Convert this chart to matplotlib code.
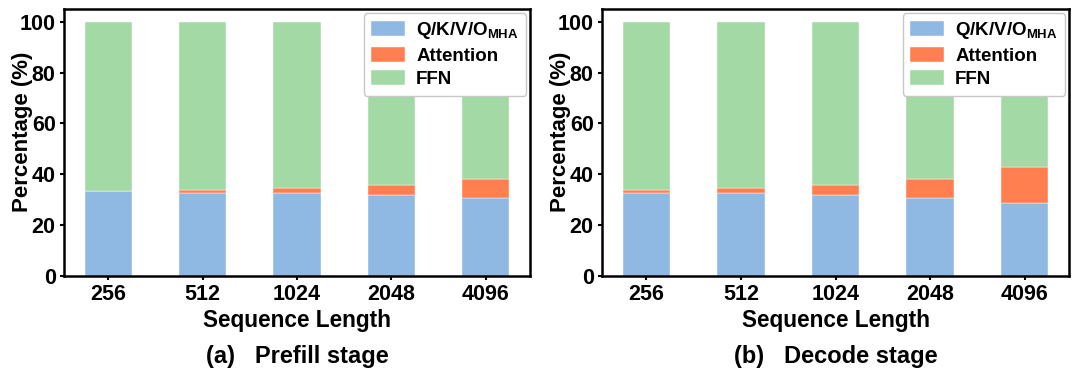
import matplotlib
matplotlib.use("Agg")
import matplotlib.pyplot as plt
import numpy as np

plt.rcParams['font.family'] = ['Liberation Sans', 'DejaVu Sans']
plt.rcParams['font.weight'] = 'bold'
plt.rcParams['mathtext.fontset'] = 'custom'
plt.rcParams['mathtext.rm'] = 'Liberation Sans:bold'
plt.rcParams['mathtext.bf'] = 'Liberation Sans:bold'
plt.rcParams['mathtext.it'] = 'Liberation Sans:bold'

seq_lengths = ["256", "512", "1024", "2048", "4096"]
series_names = [r"Q/K/V/O$_\mathbf{MHA}$", "Attention", "FFN"]
colors = ["#8fb8e2", "#ff7f50", "#a3d9a5"]

prefill_qkvo = [33.3, 32.8, 32.6, 31.9, 30.7]
prefill_attn = [0.3, 1.2, 2.2, 4.0, 7.6]
prefill_ffn = [66.4, 66.0, 65.2, 64.1, 61.7]

decode_qkvo = [32.8, 32.6, 31.9, 30.7, 28.6]
decode_attn = [1.2, 2.2, 4.0, 7.6, 14.2]
decode_ffn = [66.0, 65.2, 64.1, 61.7, 57.2]

fig = plt.figure(figsize=(10.79, 3.79), dpi=100)
W, H = 1079, 379
ax1 = fig.add_axes([64 / W, 1 - 276 / H, 466 / W, 267 / H])
ax2 = fig.add_axes([602 / W, 1 - 276 / H, 467 / W, 267 / H])

panels = [
    (ax1, [prefill_qkvo, prefill_attn, prefill_ffn], "(a)   Prefill stage"),
    (ax2, [decode_qkvo, decode_attn, decode_ffn], "(b)   Decode stage"),
]

x = np.arange(len(seq_lengths))
for ax, data, title in panels:
    bottom = np.zeros(len(seq_lengths))
    for vals, name, c in zip(data, series_names, colors):
        ax.bar(x, vals, width=0.5, bottom=bottom, color=c, label=name,
               edgecolor='white', linewidth=0.3)
        bottom += np.array(vals)
    ax.set_xlim(-0.47, 4.47)
    ax.set_ylim(0, 105)
    ax.set_yticks([0, 20, 40, 60, 80, 100])
    ax.set_xticks(x)
    ax.set_xticklabels(seq_lengths)
    ax.tick_params(axis='both', labelsize=15.5, width=1.5, length=3, pad=3)
    for lab in ax.get_xticklabels() + ax.get_yticklabels():
        lab.set_fontweight('bold')
    for s in ax.spines.values():
        s.set_linewidth(1.8)
    ax.set_ylabel("Percentage (%)", fontsize=16, fontweight='bold')
    ax.yaxis.set_label_coords(-0.066, 0.54)
    ax.set_xlabel("Sequence Length", fontsize=16.3, fontweight='bold')
    ax.xaxis.label.set_verticalalignment('center')
    ax.xaxis.set_label_coords(0.5, -0.165)
    leg = ax.legend(loc='upper right', fontsize=13.5, frameon=True, fancybox=True,
                    framealpha=1.0, handlelength=1.8, handleheight=0.84,
                    handletextpad=0.6, labelspacing=0.3, borderaxespad=0.2,
                    borderpad=0.4, edgecolor='#c8c8c8')
    leg.get_frame().set_linewidth(1.0)
    pos = ax.get_position()
    fig.text(pos.x0 + pos.width / 2, 1 - 357 / H, title, ha='center', va='center',
             fontsize=17, fontweight='bold')

fig.savefig("out.png", dpi=100)
